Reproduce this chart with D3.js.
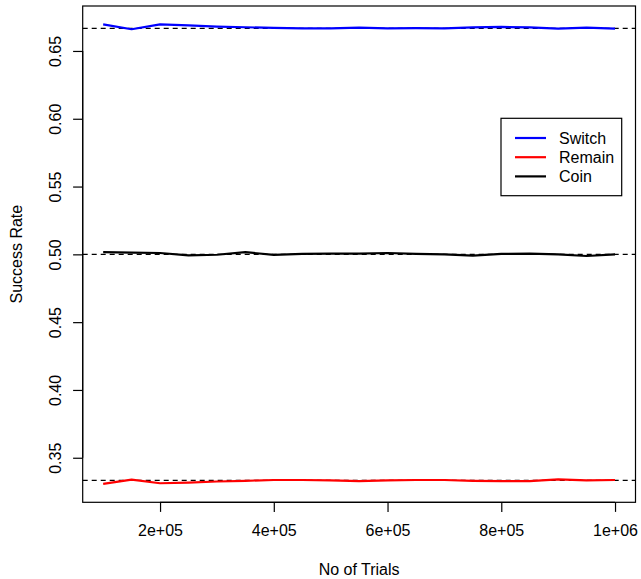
<!DOCTYPE html>
<html>
<head>
<meta charset="utf-8">
<script src="https://cdnjs.cloudflare.com/ajax/libs/d3/7.8.5/d3.min.js"></script>
<style>
body { margin: 0; background: #fff; }
text { font-family: "Liberation Sans", Arial, sans-serif; font-size: 16px; fill: #000; }
</style>
</head>
<body>
<svg id="svg1" width="641" height="579"></svg>
<script>
// trials (x) and success rates
var trials = [100000,150000,200000,250000,300000,350000,400000,450000,500000,550000,
	600000,650000,700000,750000,800000,850000,900000,950000,1000000];
var switchRate = [0.6696,0.6660,0.6696,0.6688,0.6680,0.6675,0.6670,0.6667,0.6667,0.6672,
	0.6667,0.6669,0.6667,0.6674,0.6677,0.6674,0.6664,0.6672,0.6664];
var remainRate = [0.3307,0.3339,0.3312,0.3317,0.3325,0.3330,0.3336,0.3336,0.3333,0.3328,
	0.3333,0.3336,0.3336,0.3330,0.3328,0.3328,0.3341,0.3333,0.3336];
var coinRate = [0.5016,0.5013,0.5010,0.4993,0.4997,0.5016,0.4996,0.5003,0.5005,0.5005,
	0.5010,0.5003,0.5000,0.4990,0.5003,0.5005,0.5000,0.4988,0.5000];
var refLines = [2/3, 1/2, 1/3];
var xTicks = [200000,400000,600000,800000,1000000];
var xTickLabels = ["2e+05","4e+05","6e+05","8e+05","1e+06"];
var yTicks = [0.35,0.40,0.45,0.50,0.55,0.60,0.65];
var seriesNames = ["Switch","Remain","Coin"];
var seriesColors = ["#0000ff","#ff0000","#000000"];

var draw_chart = function()
{
	var svg = d3.select("#svg1");
	var left = 82.7, right = 635.5, top = 6, bottom = 502.3;
	var lineH = 19.2;

	var series = [switchRate, remainRate, coinRate];
	var all = d3.merge(series);
	var ymin = d3.min(all), ymax = d3.max(all);
	var xmin = d3.min(trials), xmax = d3.max(trials);
	var xpad = (xmax - xmin) * 0.04, ypad = (ymax - ymin) * 0.04;

	var x = d3.scaleLinear().domain([xmin - xpad, xmax + xpad]).range([left, right]);
	var y = d3.scaleLinear().domain([ymin - ypad, ymax + ypad]).range([bottom, top]);

	var plot = svg.append("g");

	// dashed reference lines
	plot.selectAll(".ref")
		.data(refLines)
		.enter().append("line")
		.attr("class", "ref")
		.attr("x1", left).attr("x2", right)
		.attr("y1", function(d) { return y(d); })
		.attr("y2", function(d) { return y(d); })
		.attr("stroke", "#000")
		.attr("stroke-width", 1.2)
		.attr("stroke-dasharray", "5,4");

	var line = d3.line()
		.x(function(d, i) { return x(trials[i]); })
		.y(function(d) { return y(d); });

	plot.selectAll(".series")
		.data(series)
		.enter().append("path")
		.attr("class", "series")
		.attr("d", line)
		.attr("fill", "none")
		.attr("stroke", function(d, i) { return seriesColors[i]; })
		.attr("stroke-width", 2.2)
		.attr("stroke-linejoin", "round");

	// box
	svg.append("rect")
		.attr("x", left).attr("y", top)
		.attr("width", right - left).attr("height", bottom - top)
		.attr("fill", "none").attr("stroke", "#000").attr("stroke-width", 1.2);

	// axes
	var xAxis = d3.axisBottom(x).tickValues(xTicks)
		.tickFormat(function(d, i) { return xTickLabels[i]; })
		.tickSize(9.6).tickPadding(13);
	var gx = svg.append("g").attr("transform", "translate(0," + bottom + ")").call(xAxis);
	gx.select(".domain").attr("d", "M" + x(xTicks[0]) + ",0H" + x(xTicks[xTicks.length - 1]));

	var yAxis = d3.axisLeft(y).tickValues(yTicks)
		.tickFormat(d3.format(".2f"))
		.tickSize(9.6).tickPadding(13);
	var gy = svg.append("g").attr("transform", "translate(" + left + ",0)").call(yAxis);
	gy.select(".domain").attr("d", "M0," + y(yTicks[0]) + "V" + y(yTicks[yTicks.length - 1]));
	gy.selectAll(".tick text")
		.attr("x", 0).attr("dy", null)
		.attr("text-anchor", "middle")
		.attr("transform", "translate(" + (-lineH * 1.46) + ",0) rotate(-90) translate(0,6)");

	svg.selectAll(".tick line, .domain").attr("stroke", "#000").attr("stroke-width", 1.2);
	svg.selectAll(".tick text").style("font-size", "16px").attr("font-family", null);

	// axis titles
	svg.append("text")
		.attr("x", (left + right) / 2).attr("y", bottom + lineH * 3.46 + 6)
		.attr("text-anchor", "middle")
		.text("No of Trials");
	svg.append("text")
		.attr("text-anchor", "middle")
		.attr("transform", "translate(" + (left - lineH * 3.46 + 6) + "," + ((top + bottom) / 2) + ") rotate(-90)")
		.text("Success Rate");

	// legend
	var legend = svg.append("g");
	legend.append("rect")
		.attr("x", 501).attr("y", 118.3)
		.attr("width", 120.7).attr("height", 77.4)
		.attr("fill", "#fff").attr("stroke", "#000").attr("stroke-width", 1.2);
	var item = legend.selectAll(".item")
		.data(seriesNames)
		.enter().append("g")
		.attr("class", "item")
		.attr("transform", function(d, i) { return "translate(0," + (138 + i * lineH) + ")"; });
	item.append("line")
		.attr("x1", 515).attr("x2", 546)
		.attr("stroke", function(d, i) { return seriesColors[i]; })
		.attr("stroke-width", 2.2);
	item.append("text")
		.attr("x", 559).attr("dy", "0.35em")
		.text(function(d) { return d; });
}

draw_chart();
</script>
</body>
</html>
